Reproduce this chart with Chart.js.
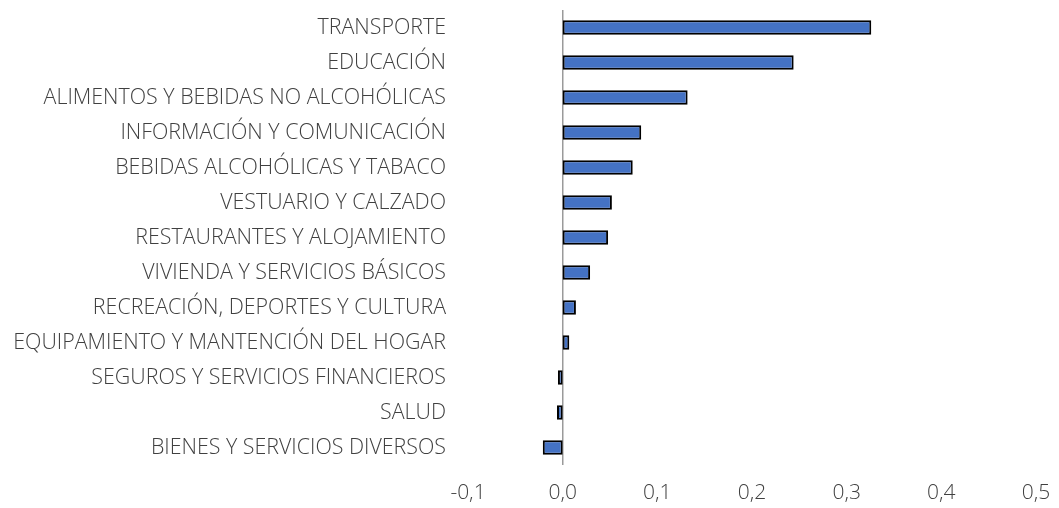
<!DOCTYPE html>
<html>
<head>
<meta charset="utf-8">
<script src="https://cdn.jsdelivr.net/npm/chart.js@4"></script>
<style>
  html, body { margin: 0; padding: 0; background: #fff; }
</style>
</head>
<body>
<canvas id="chart" width="1059" height="508"></canvas>
<script>
// Categories, top to bottom
const categories = [
    "TRANSPORTE",
    "EDUCACIÓN",
    "ALIMENTOS Y BEBIDAS NO ALCOHÓLICAS",
    "INFORMACIÓN Y COMUNICACIÓN",
    "BEBIDAS ALCOHÓLICAS Y TABACO",
    "VESTUARIO Y CALZADO",
    "RESTAURANTES Y ALOJAMIENTO",
    "VIVIENDA Y SERVICIOS BÁSICOS",
    "RECREACIÓN, DEPORTES Y CULTURA",
    "EQUIPAMIENTO Y MANTENCIÓN DEL HOGAR",
    "SEGUROS Y SERVICIOS FINANCIEROS",
    "SALUD",
    "BIENES Y SERVICIOS DIVERSOS"
];

// Incidence values
const values = [0.326, 0.244, 0.132, 0.083, 0.074, 0.052, 0.048, 0.029, 0.014, 0.007, -0.005, -0.006, -0.021];

// Axis range
const xMin = -0.1;
const xMax = 0.5;
const xStep = 0.1;

const fontFamily = "'Open Sans', 'Noto Sans', sans-serif";

new Chart(document.getElementById("chart").getContext("2d"), {
    type: "bar",
    data: {
        labels: categories,
        datasets: [{
            data: values,
            backgroundColor: "#4472C4",
            borderColor: "#000000",
            borderWidth: 2,
            borderSkipped: false,
            barPercentage: 0.42,
            categoryPercentage: 1.0
        }]
    },
    options: {
        indexAxis: "y",
        responsive: false,
        animation: false,
        layout: { padding: { top: 10, right: 1, bottom: 0, left: 0 } },
        plugins: { legend: { display: false }, tooltip: { enabled: false } },
        scales: {
            x: {
                min: xMin,
                max: xMax,
                ticks: {
                    stepSize: xStep,
                    color: "#404040",
                    font: { family: fontFamily, size: 21, weight: 300 },
                    padding: 15,
                    callback: v => (Math.round(v * 10) / 10 + 0).toFixed(1).replace("-0.0", "0.0").replace(".", ",")
                },
                grid: {
                    drawTicks: false,
                    color: ctx => (ctx.tick && Math.abs(ctx.tick.value) < 1e-9) ? "#9a9a9a" : "transparent",
                    lineWidth: 1.5
                },
                border: { display: false },
                afterFit: scale => { scale.height = 43; scale.paddingBottom = 0; scale.paddingLeft = 0; scale.paddingRight = 23; }
            },
            y: {
                ticks: {
                    color: "#404040",
                    font: { family: fontFamily, size: 21.4, weight: 300 },
                    padding: 22
                },
                grid: { display: false, drawTicks: false },
                border: { display: false },
                // the label padding should not push the plot down from the top
                afterFit: scale => { scale.paddingTop = 0; scale.paddingBottom = 0; scale.width = 468; }
            }
        }
    }
});
</script>
</body>
</html>
